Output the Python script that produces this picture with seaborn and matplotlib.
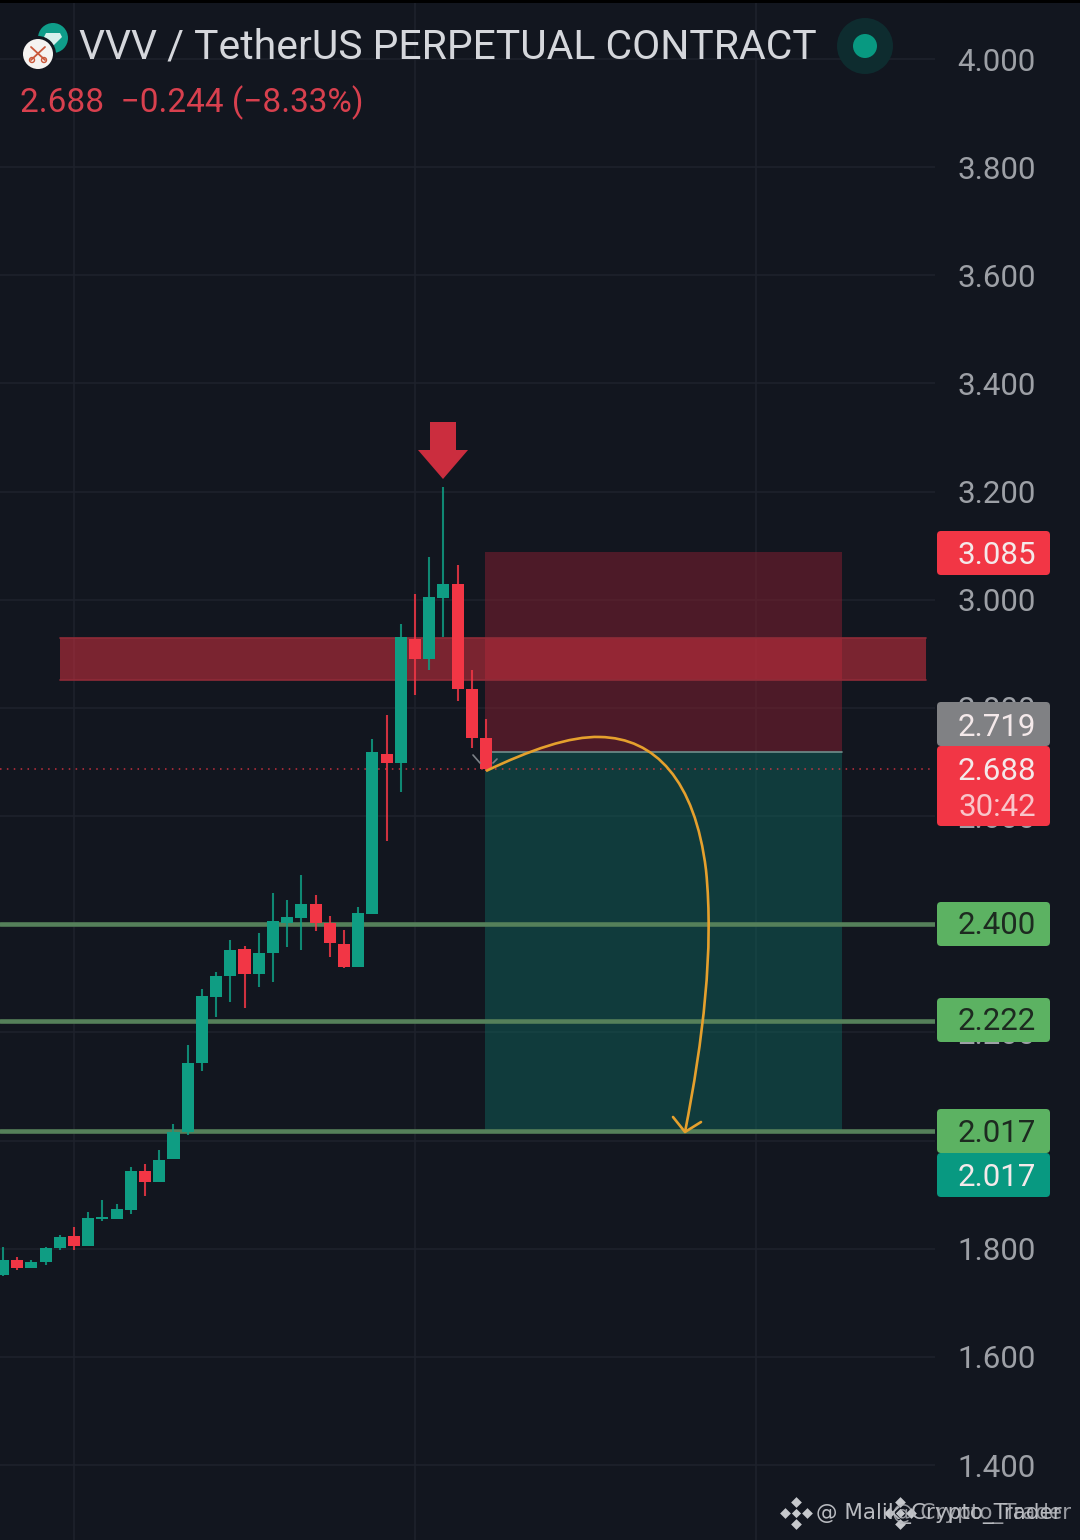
import numpy as np
import matplotlib
matplotlib.use('Agg')
import matplotlib.pyplot as plt
import seaborn as sns
from matplotlib.patches import Circle, FancyBboxPatch, PathPatch, Polygon, Rectangle
from matplotlib.path import Path

# ----------------------------------------------------------
# Values
# ----------------------------------------------------------
opens = [1.752, 1.779, 1.764, 1.776, 1.801, 1.824, 1.805, 1.855, 1.855, 1.872, 1.944, 1.924,
         1.966, 2.016, 2.144, 2.266, 2.304, 2.354, 2.308, 2.347, 2.402, 2.412, 2.437, 2.402,
         2.364, 2.321, 2.419, 2.715, 2.698, 2.928, 2.891, 3.003, 3.029, 2.835, 2.745]
highs = [1.803, 1.785, 1.779, 1.803, 1.825, 1.840, 1.868, 1.890, 1.883, 1.951, 1.957, 1.983,
         2.031, 2.177, 2.280, 2.312, 2.371, 2.360, 2.384, 2.458, 2.445, 2.491, 2.454, 2.415,
         2.389, 2.432, 2.743, 2.787, 2.955, 3.011, 3.079, 3.209, 3.064, 2.870, 2.780]
lows = [1.750, 1.761, 1.764, 1.770, 1.798, 1.798, 1.805, 1.851, 1.855, 1.864, 1.898, 1.924,
        1.966, 2.010, 2.129, 2.229, 2.256, 2.245, 2.284, 2.293, 2.358, 2.352, 2.388, 2.340,
        2.319, 2.321, 2.419, 2.554, 2.645, 2.824, 2.870, 2.931, 2.813, 2.726, 2.683]
closes = [1.779, 1.764, 1.776, 1.802, 1.822, 1.805, 1.857, 1.859, 1.874, 1.944, 1.924, 1.964,
          2.016, 2.144, 2.267, 2.304, 2.352, 2.308, 2.347, 2.406, 2.413, 2.437, 2.402, 2.365,
          2.321, 2.421, 2.719, 2.698, 2.931, 2.891, 3.005, 3.029, 2.835, 2.745, 2.688]

price_ticks = [4.0, 3.8, 3.6, 3.4, 3.2, 3.0, 2.8, 2.6, 2.4, 2.2, 2.0, 1.8, 1.6, 1.4]
time_grid = [5, 29, 53]
support_levels = [2.400, 2.222, 2.017]
supply_band = [2.852, 2.929]
stop_price = 3.088
entry_price = 2.719
target_price = 2.017
last_price = 2.688

title_text = 'VVV / TetherUS PERPETUAL CONTRACT'
change_text = '2.688  \u22120.244 (\u22128.33%)'
watermark_1 = '@ Malik_Crypto_Trader'
watermark_2 = '@ Crypto_Trader'

# ----------------------------------------------------------
# Colours
# ----------------------------------------------------------
BG = '#12161f'
GRID = '#1e222c'
UP = '#0f9d83'
DOWN = '#f23645'
LEVEL = '#55805a'
TICK = '#9da0a6'

sns.set_theme(style='dark', rc={'figure.facecolor': BG, 'axes.facecolor': BG})
plt.rcParams['font.family'] = ['Roboto', 'DejaVu Sans']

fig = plt.figure(figsize=(10.8, 15.4), dpi=100)
ax = fig.add_axes([0, 0, 935 / 1080, 1])

# ----------------------------------------------------------
# Candles
# ----------------------------------------------------------
opens_a, closes_a = np.array(opens), np.array(closes)
idx = np.arange(len(opens))
is_up = closes_a >= opens_a

ax.vlines(idx[is_up], np.array(lows)[is_up], np.array(highs)[is_up], color=UP, lw=1.5, alpha=0.85, zorder=3)
ax.vlines(idx[~is_up], np.array(lows)[~is_up], np.array(highs)[~is_up], color=DOWN, lw=1.5, alpha=0.85, zorder=3)

for mask, colour in [(is_up, UP), (~is_up, DOWN)]:
    sns.barplot(x=idx[mask], y=np.abs(closes_a - opens_a)[mask], bottom=np.minimum(opens_a, closes_a)[mask],
                native_scale=True, width=0.85, color=colour, saturation=1, errorbar=None,
                ax=ax, zorder=4, linewidth=0)

# ----------------------------------------------------------
# Zones and levels
# ----------------------------------------------------------
ax.fill_between([33.93, 59.05], entry_price, stop_price, facecolor='#7f1f30', alpha=0.55, lw=0, zorder=2.2)
ax.fill_between([33.93, 59.05], target_price, entry_price, facecolor='#0f6a60', alpha=0.45, lw=0, zorder=2)
ax.plot([33.93, 59.05], [entry_price, entry_price], color='#6f8f8c', lw=1.2, zorder=2.7)
ax.fill_between([4, 65], supply_band[0], supply_band[1], facecolor='#d0303f', alpha=0.55, lw=0, zorder=2.5)
for edge in supply_band:
    ax.plot([4, 65], [edge, edge], color='#8f2b38', lw=1.2, zorder=2.6)
for level in support_levels:
    ax.axhline(level, color=LEVEL, lw=3.3, zorder=2.8)
ax.axhline(last_price, color=DOWN, lw=1.1, ls=(0, (1, 3.5)), alpha=0.8, zorder=2.9)

# ----------------------------------------------------------
# Axes
# ----------------------------------------------------------
ax.set_xlim(-0.211, 65.6)
ax.set_ylim(1.2615, 4.1091)
ax.set_xticks(time_grid)
ax.set_xticklabels([])
ax.set_yticks(price_ticks)
ax.set_yticklabels(['%.3f' % p for p in price_ticks])
ax.yaxis.tick_right()
ax.tick_params(axis='y', length=0, pad=16, labelsize=22.5, labelcolor=TICK)
ax.tick_params(axis='x', length=0)
ax.grid(True, color=GRID, lw=1.2, zorder=0)
ax.set_axisbelow(True)
ax.set_xlabel('')
ax.set_ylabel('')
for spine in ax.spines.values():
    spine.set_visible(False)

# ----------------------------------------------------------
# Overlay in image pixels: header, price tags, drawings
# ----------------------------------------------------------
ov = fig.add_axes([0, 0, 1, 1], facecolor='none')
ov.set_xlim(0, 1080)
ov.set_ylim(1540, 0)
ov.axis('off')

ov.add_patch(Rectangle((0, 0), 1080, 3, color='black', lw=0))

# header
ov.add_patch(Circle((53, 38), 15, color='#0f9d8a', lw=0))
ov.add_patch(Polygon([(46, 33), (60, 33), (62, 37), (53, 46), (44, 37)], color='#d5f0ec', lw=0))
ov.add_patch(Circle((38, 54), 18, color=BG, lw=0))
ov.add_patch(Circle((38, 54), 15, color='#f5f3f1', lw=0))
ov.plot([31, 45], [47, 60], color='#c9573a', lw=1.3)
ov.plot([45, 31], [47, 60], color='#c9573a', lw=1.3)
ov.add_patch(Circle((32, 60), 2.5, fill=False, ec='#c9573a', lw=1))
ov.add_patch(Circle((44, 60), 2.5, fill=False, ec='#c9573a', lw=1))
ov.text(79, 47, title_text, color='#d5d7dc', fontsize=29.4, va='center', ha='left')
ov.text(20, 103, change_text, color='#d8404e', fontsize=24, va='center', ha='left')
ov.add_patch(Circle((865, 46), 28, color='#0e2c2f', lw=0))
ov.add_patch(Circle((865, 46), 12, color='#089981', lw=0))

# red arrow above the high
ov.add_patch(Polygon([(430, 422), (456, 422), (456, 450), (468, 450), (443, 479), (418, 450), (430, 450)],
                     color='#cb2d3e', lw=0))

# small grey mark at the last candle
ov.plot([473, 480], [755, 763], color='#7d8288', lw=1.2, zorder=1)
ov.plot([493, 497], [763, 759], color='#7d8288', lw=1.2, zorder=1)

# orange hand drawn arrow
curve = Path([(486, 771), (530, 750), (570, 736), (600, 737),
              (655, 738), (695, 780), (706, 870),
              (714, 950), (703, 1040), (685, 1132)],
             [Path.MOVETO] + [Path.CURVE4] * 9)
ov.add_patch(PathPatch(curve, fill=False, ec='#e5a02d', lw=1.9, zorder=3))
ov.plot([673, 685, 701], [1117, 1132, 1122], color='#e5a02d', lw=1.9, zorder=3)

# price tags
tags = [(531, 44, '#f23645', '3.085', 555), (702, 44, '#808184', '2.719', 727),
        (746, 80, '#f23645', '2.688', 771), (902, 44, '#5cb262', '2.400', 926),
        (998, 44, '#5cb262', '2.222', 1022), (1109, 44, '#5cb262', '2.017', 1133),
        (1153, 44, '#089981', '2.017', 1177)]
for top, height, colour, label, text_y in tags:
    ov.add_patch(FancyBboxPatch((937, top), 113, height, boxstyle='round,pad=0,rounding_size=4',
                                fc=colour, ec='none', zorder=4))
    label_colour = '#1d2a20' if colour == '#5cb262' else '#f4e9ea'
    ov.text(997, text_y, label, color=label_colour, fontsize=22.5, ha='center', va='center', zorder=5)
ov.text(997, 807, '30:42', color='#f9c5ca', fontsize=22.5, ha='center', va='center', zorder=5)

# watermark
for cx in [796, 900]:
    ov.scatter([cx, cx, cx - 11, cx + 11], [1502, 1524, 1513, 1513], marker='D', s=30, color='#c6c8cc', lw=0, zorder=6)
    ov.scatter([cx], [1513], marker='D', s=22, color='#c6c8cc', lw=0, zorder=6)
ov.text(816, 1514, watermark_1, color='#b9bbc0', fontsize=15.5, family='DejaVu Sans', ha='left', va='center', zorder=6)
ov.text(1071, 1514, watermark_2, color='#b9bbc0', fontsize=15.5, family='DejaVu Sans', ha='right', va='center', zorder=6, alpha=0.8)

plt.savefig('out.png', dpi=100, facecolor=BG)
